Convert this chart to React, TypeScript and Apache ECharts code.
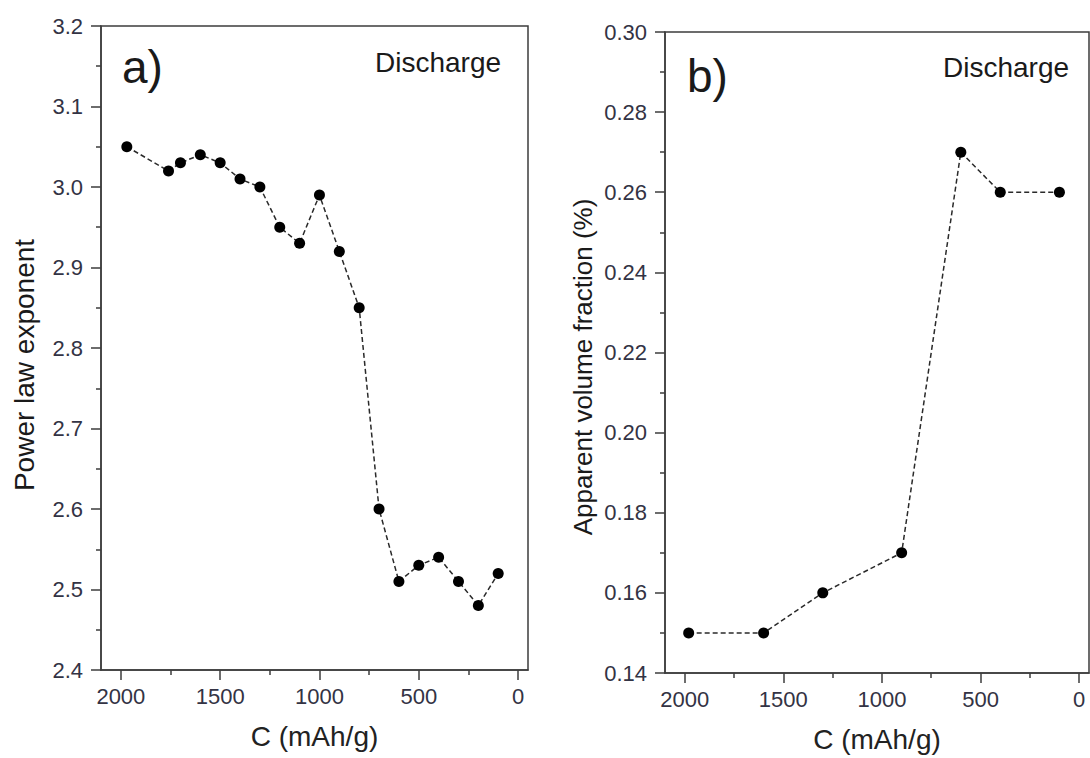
import React, { useEffect, useRef } from "react";
import * as echarts from "echarts";

// Panel a) : power-law exponent vs capacity
const capacityA = [1970, 1760, 1700, 1600, 1500, 1400, 1300, 1200, 1100, 1000, 900, 800, 700, 600, 500, 400, 300, 200, 100];
const exponentA = [3.05, 3.02, 3.03, 3.04, 3.03, 3.01, 3.0, 2.95, 2.93, 2.99, 2.92, 2.85, 2.6, 2.51, 2.53, 2.54, 2.51, 2.48, 2.52];

// Panel b) : apparent volume fraction vs capacity
const capacityB = [1980, 1600, 1300, 900, 600, 400, 100];
const fractionB = [0.15, 0.15, 0.16, 0.17, 0.27, 0.26, 0.26];

const xMajorTicks = [0, 500, 1000, 1500, 2000];
const xMinorTicks = [250, 750, 1250, 1750];

const FONT = "'Liberation Sans', Arial, 'DejaVu Sans', sans-serif";
const AXIS_COLOR = "#3c3c3c";
const LABEL_COLOR = "#333344";

function xAxes(gridIndex: number) {
  const common = {
    gridIndex,
    type: "value" as const,
    inverse: true,
    min: -50,
    max: 2100,
    position: "bottom" as const,
    splitLine: { show: false },
  };
  return [
    {
      ...common,
      axisLine: { show: true, onZero: false, lineStyle: { color: AXIS_COLOR, width: 1.5 } },
      axisTick: {
        show: true,
        inside: false,
        length: 10,
        customValues: xMajorTicks,
        lineStyle: { color: AXIS_COLOR, width: 1.5 },
      },
      axisLabel: {
        show: true,
        customValues: xMajorTicks,
        fontSize: 22,
        fontFamily: FONT,
        color: LABEL_COLOR,
        margin: 15,
        formatter: (v: number) => String(v),
      },
      name: "C (mAh/g)",
      nameLocation: "middle" as const,
      nameGap: 52,
      nameTextStyle: { fontSize: 28, fontFamily: FONT, color: "#222" },
    },
    {
      ...common,
      axisLine: { show: false, onZero: false },
      axisTick: {
        show: true,
        inside: false,
        length: 5,
        customValues: xMinorTicks,
        lineStyle: { color: AXIS_COLOR, width: 1.5 },
      },
      axisLabel: { show: false },
    },
  ];
}

function yAxis(gridIndex: number, min: number, max: number, interval: number, digits: number) {
  return {
    gridIndex,
    type: "value" as const,
    min,
    max,
    interval,
    position: "left" as const,
    splitLine: { show: false },
    minorSplitLine: { show: false },
    axisLine: { show: true, onZero: false, lineStyle: { color: AXIS_COLOR, width: 1.5 } },
    axisTick: { show: true, inside: false, length: 10, lineStyle: { color: AXIS_COLOR, width: 1.5 } },
    minorTick: { show: true, splitNumber: 2, length: 5, lineStyle: { color: AXIS_COLOR, width: 1.5 } },
    axisLabel: {
      fontSize: 22,
      fontFamily: FONT,
      color: LABEL_COLOR,
      margin: 18,
      formatter: (v: number) => v.toFixed(digits),
    },
  };
}

function seriesOf(xs: number[], ys: number[], xAxisIndex: number, yAxisIndex: number) {
  return {
    type: "line" as const,
    xAxisIndex,
    yAxisIndex,
    data: xs.map((x, i) => [x, ys[i]]),
    symbol: "circle",
    symbolSize: 11,
    itemStyle: { color: "#000" },
    lineStyle: { color: "#2a2a2a", width: 1.5, type: [5, 3] as any },
    z: 3,
  };
}

function txt(text: string, x: number, y: number, fontSize: number, align: string, rotation = 0) {
  return {
    type: "text" as const,
    x,
    y,
    rotation,
    style: {
      text,
      fontSize,
      fontFamily: FONT,
      fill: "#1a1a1a",
      align,
      verticalAlign: "middle",
      textAlign: align,
      textVerticalAlign: "middle",
    },
    z: 10,
  };
}

export default function App() {
  const ref = useRef<HTMLDivElement>(null);
  useEffect(() => {
    if (!ref.current) return;
    const chart = echarts.init(ref.current, undefined, { renderer: "svg" });
    const gridStyle = {
      show: true,
      borderColor: AXIS_COLOR,
      borderWidth: 1.5,
      backgroundColor: "transparent",
      containLabel: false,
      outerBoundsMode: "none",
    };
    chart.setOption({
      animation: false,
      backgroundColor: "#fff",
      grid: [
        { ...gridStyle, left: 101, top: 26, width: 427, height: 644 },
        { ...gridStyle, left: 665, top: 32, width: 424, height: 641 },
      ],
      xAxis: [...xAxes(0), ...xAxes(1)],
      yAxis: [yAxis(0, 2.4, 3.2, 0.1, 1), yAxis(1, 0.14, 0.3, 0.02, 2)],
      series: [seriesOf(capacityA, exponentA, 0, 0), seriesOf(capacityB, fractionB, 2, 1)],
      graphic: [
        txt("a)", 122, 67, 46, "left"),
        txt("Discharge", 375, 62, 28, "left"),
        txt("b)", 687, 76, 46, "left"),
        txt("Discharge", 943, 67, 28, "left"),
        txt("Power law exponent", 24, 365, 28, "center", Math.PI / 2),
        txt("Apparent volume fraction (%)", 583, 367, 26, "center", Math.PI / 2),
      ],
    });
    return () => chart.dispose();
  }, []);
  return (
    <div
      ref={ref}
      style={{ position: "absolute", left: 0, top: 0, width: 1090, height: 758, background: "#fff" }}
    />
  );
}
